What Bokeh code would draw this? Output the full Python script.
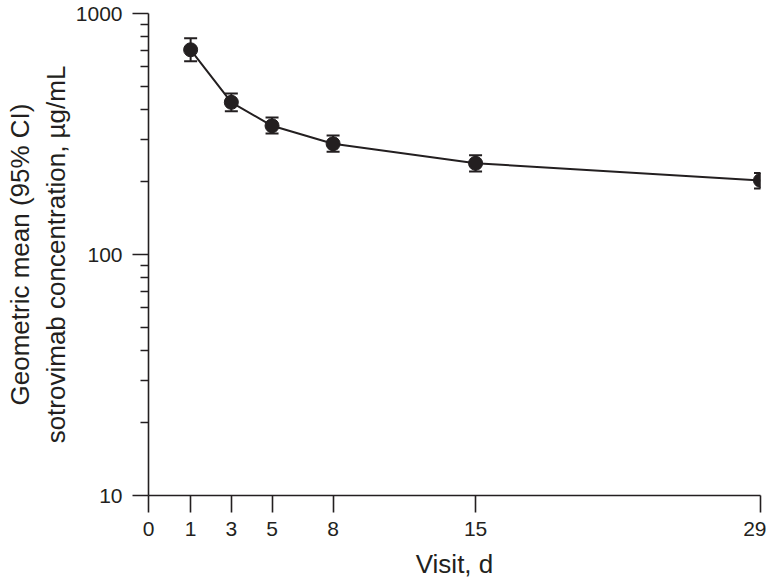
from bokeh.plotting import figure
from bokeh.models import ColumnDataSource, Whisker, TeeHead, FixedTicker, Range1d, PrintfTickFormatter
from bokeh.embed import file_html
from bokeh.resources import INLINE

visit_days = [1, 3, 5, 8, 15, 29]
geo_mean = [707, 428, 342, 288, 239, 203]
ci_low = [634, 393, 318, 267, 221, 188]
ci_high = [790, 466, 370, 312, 258, 218]
x_tick_labels = ["0", "1", "3", "5", "8", "15", "29"]
y_major_ticks = [10, 100, 1000]
y_minor_ticks = [20, 30, 40, 50, 60, 70, 80, 90, 200, 300, 400, 500, 600, 700, 800, 900]

X_START = -1.07  # axis break: the "0" tick sits at the axis origin
INK = "#231f20"
FONT = "Liberation Sans"

src = ColumnDataSource(dict(x=visit_days, y=geo_mean, lo=ci_low, hi=ci_high))

p = figure(
    frame_width=612, frame_height=482,
    min_border_left=148, min_border_right=6, min_border_top=13, min_border_bottom=84,
    y_axis_type="log",
    x_range=Range1d(X_START, 29), y_range=Range1d(10, 1000),
    output_backend="svg", toolbar_location=None,
)
p.outline_line_color = None
p.xgrid.grid_line_color = None
p.ygrid.grid_line_color = None
p.background_fill_color = "white"
p.border_fill_color = "white"

p.line("x", "y", source=src, line_color=INK, line_width=2)
w = Whisker(base="x", lower="lo", upper="hi", source=src,
            line_color=INK, line_width=2,
            upper_head=TeeHead(size=13, line_color=INK, line_width=2),
            lower_head=TeeHead(size=13, line_color=INK, line_width=2))
p.add_layout(w)
p.scatter("x", "y", source=src, size=14, fill_color=INK, line_color=INK, marker="circle")

tick_pos = [X_START] + visit_days
xa = p.xaxis[0]
xa.ticker = FixedTicker(ticks=tick_pos, minor_ticks=[])
xa.major_label_overrides = {t: lab for t, lab in zip(tick_pos, x_tick_labels)}
xa.axis_label = "Visit, d"

ya = p.yaxis[0]
ya.ticker = FixedTicker(ticks=y_major_ticks, minor_ticks=y_minor_ticks)
ya.formatter = PrintfTickFormatter(format="%d")
ya.axis_label = "Geometric mean (95% CI)\nsotrovimab concentration, µg/mL"

for ax in (xa, ya):
    ax.axis_line_color = INK
    ax.axis_line_width = 1.6
    ax.major_tick_line_color = INK
    ax.major_tick_line_width = 1.6
    ax.minor_tick_line_color = INK
    ax.minor_tick_line_width = 1.6
    ax.major_tick_in = 0
    ax.minor_tick_in = 0
    ax.major_label_text_font = FONT
    ax.major_label_text_font_size = "21px"
    ax.major_label_text_color = INK
    ax.axis_label_text_font = FONT
    ax.axis_label_text_font_size = "26px"
    ax.axis_label_text_font_style = "normal"
    ax.axis_label_text_color = INK

xa.major_tick_out = 17
xa.major_label_standoff = 9
xa.axis_label_standoff = 10
ya.major_tick_out = 16
ya.minor_tick_out = 8
ya.major_label_standoff = 10
ya.axis_label_standoff = 2

open("out.html", "w").write(file_html(p, INLINE))
